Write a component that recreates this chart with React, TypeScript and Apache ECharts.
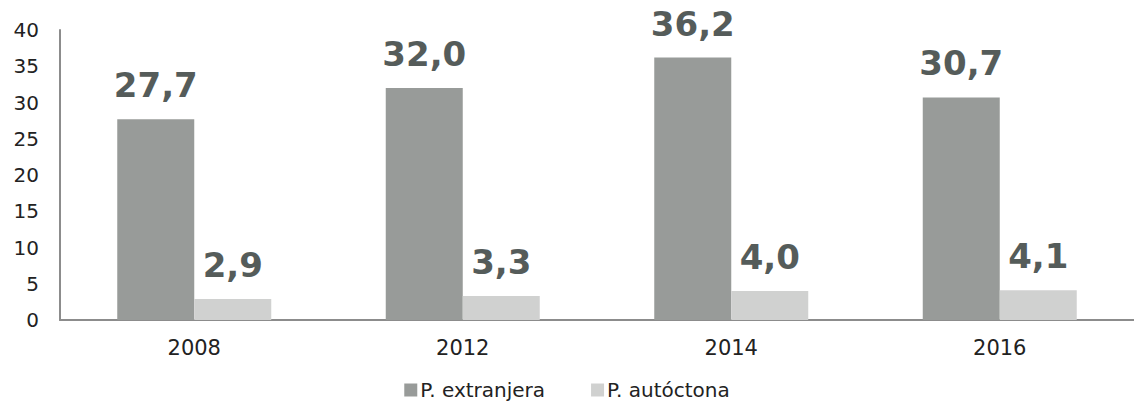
import React, { useEffect, useRef } from "react";
import * as echarts from "echarts";

const categories = ["2008", "2012", "2014", "2016"];
const extranjera = [27.7, 32.0, 36.2, 30.7];
const autoctona = [2.9, 3.3, 4.0, 4.1];
const seriesNames = ["P. extranjera", "P. autóctona"];

const fmt = (v: number) => v.toFixed(1).replace(".", ",");

export default function App() {
  const ref = useRef<HTMLDivElement>(null);
  useEffect(() => {
    if (!ref.current) return;
    const chart = echarts.init(ref.current, undefined, { renderer: "svg" });
    const font = "'DejaVu Sans', 'Noto Sans', sans-serif";
    const labelStyle = {
      show: true,
      position: "top" as const,
      distance: 17,
      fontSize: 34,
      fontWeight: "bold" as const,
      color: "#555c5a",
      fontFamily: font,
      formatter: (p: any) => fmt(p.value),
    };
    chart.setOption({
      animation: false,
      textStyle: { fontFamily: font },
      grid: { left: 60, top: 30, width: 1080, bottom: 82, containLabel: false },
      legend: {
        top: 375,
        left: "center",
        itemWidth: 13,
        itemHeight: 13,
        itemGap: 46,
        icon: "rect",
        textStyle: { fontSize: 20, color: "#222", fontFamily: font, padding: [0, 0, 0, -2] },
        data: seriesNames,
      },
      xAxis: {
        type: "category",
        data: categories,
        axisLine: { show: true, lineStyle: { color: "#8c8c8c", width: 2 } },
        axisTick: { show: false },
        axisLabel: { fontSize: 21, color: "#222", margin: 17, fontFamily: font },
      },
      yAxis: {
        type: "value",
        min: 0,
        max: 40,
        interval: 5,
        axisLine: { show: true, lineStyle: { color: "#8c8c8c", width: 2 } },
        axisTick: { show: false },
        splitLine: { show: false },
        axisLabel: { fontSize: 20, color: "#222", margin: 21, fontFamily: font },
      },
      series: [
        {
          name: seriesNames[0],
          type: "bar",
          data: extranjera,
          barWidth: 77,
          barGap: "0%",
          itemStyle: { color: "#989b99" },
          label: labelStyle,
        },
        {
          name: seriesNames[1],
          type: "bar",
          data: autoctona,
          barWidth: 77,
          barGap: "0%",
          itemStyle: { color: "#d0d1d0" },
          label: labelStyle,
        },
      ],
    });
    return () => chart.dispose();
  }, []);
  return (
    <div
      ref={ref}
      style={{ position: "fixed", left: 0, top: 0, width: 1134, height: 402, background: "#fff" }}
    />
  );
}
